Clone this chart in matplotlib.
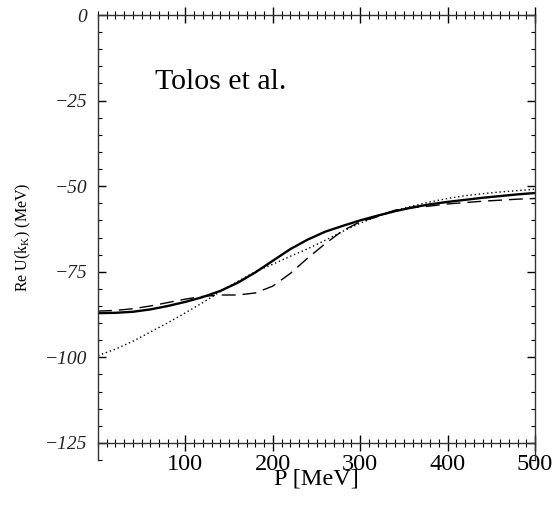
import matplotlib.pyplot as plt
from matplotlib.ticker import MultipleLocator

# momentum grid (MeV) and potentials
p = [0, 20, 40, 60, 80, 100, 120, 140, 160, 180, 200, 220, 240,
     260, 280, 300, 320, 340, 360, 380, 400, 420, 440, 460, 480, 500]
u_solid = [-87.1, -87.0, -86.7, -86.0, -85.0, -83.8, -82.4, -80.6, -78.2,
           -75.2, -71.8, -68.4, -65.6, -63.3, -61.6, -60.0, -58.6, -57.3,
           -56.2, -55.3, -54.6, -54.0, -53.4, -52.9, -52.4, -52.0]
u_dashed = [-86.5, -86.3, -85.8, -85.0, -84.0, -83.0, -82.2, -81.8, -81.8,
            -81.2, -79.2, -75.5, -71.0, -66.8, -63.0, -60.4, -58.9, -57.0,
            -56.3, -55.8, -55.2, -54.8, -54.4, -54.1, -53.8, -53.6]
u_dotted = [-99.5, -97.6, -95.3, -92.6, -89.9, -87.0, -84.0, -80.8, -77.8,
            -75.0, -72.8, -70.5, -68.3, -65.8, -63.2, -60.8, -58.8, -57.1,
            -55.8, -54.6, -53.6, -52.8, -52.2, -51.7, -51.3, -50.9]

serif = ['Liberation Serif', 'DejaVu Serif']
plt.rcParams['font.family'] = serif

fig = plt.figure(figsize=(5.58, 5.16), dpi=100)
ax = fig.add_axes([98 / 558, 1 - 460 / 516, 437 / 558, 445 / 516])

ax.plot(p, u_solid, color='black', lw=1.7, ls='-')
ax.plot(p, u_dashed, color='black', lw=1.0, ls=(0, (10, 5)))
ax.plot(p, u_dotted, color='black', lw=1.0, ls=(0, (1, 2)))

ax.set_xlim(0, 500)
ax.set_ylim(-130, 0)
ax.spines['bottom'].set_position(('data', -125))
for s in ax.spines.values():
    s.set_linewidth(1.0)
    s.set_color('#333333')

ax.xaxis.set_major_locator(MultipleLocator(100))
ax.xaxis.set_minor_locator(MultipleLocator(10))
ax.yaxis.set_major_locator(MultipleLocator(25))
ax.yaxis.set_minor_locator(MultipleLocator(5))
ax.set_xticks([100, 200, 300, 400, 500])
ax.set_yticks([0, -25, -50, -75, -100, -125])

ax.tick_params(axis='x', which='major', direction='inout', length=12, width=1,
               top=True, labelsize=17.5, pad=2)
ax.tick_params(axis='x', which='minor', direction='inout', length=6, width=0.8,
               top=True)
ax.tick_params(axis='y', which='major', direction='in', length=6, width=1,
               right=True, labelsize=14, pad=8)
ax.tick_params(axis='y', which='minor', direction='in', length=3, width=0.8,
               right=True)
for lab in ax.get_yticklabels():
    lab.set_fontstyle('italic')
    lab.set_color('#222222')

ax.set_xlabel('P [MeV]', fontsize=17.5, labelpad=-5)
ax.set_ylabel(r'Re U(k$_\mathregular{K}$) (MeV)', fontsize=11.5, labelpad=8)

ax.text(65, -21.6, 'Tolos et al.', fontsize=21.5, va='baseline', ha='left')

fig.savefig('out.png', dpi=100)
